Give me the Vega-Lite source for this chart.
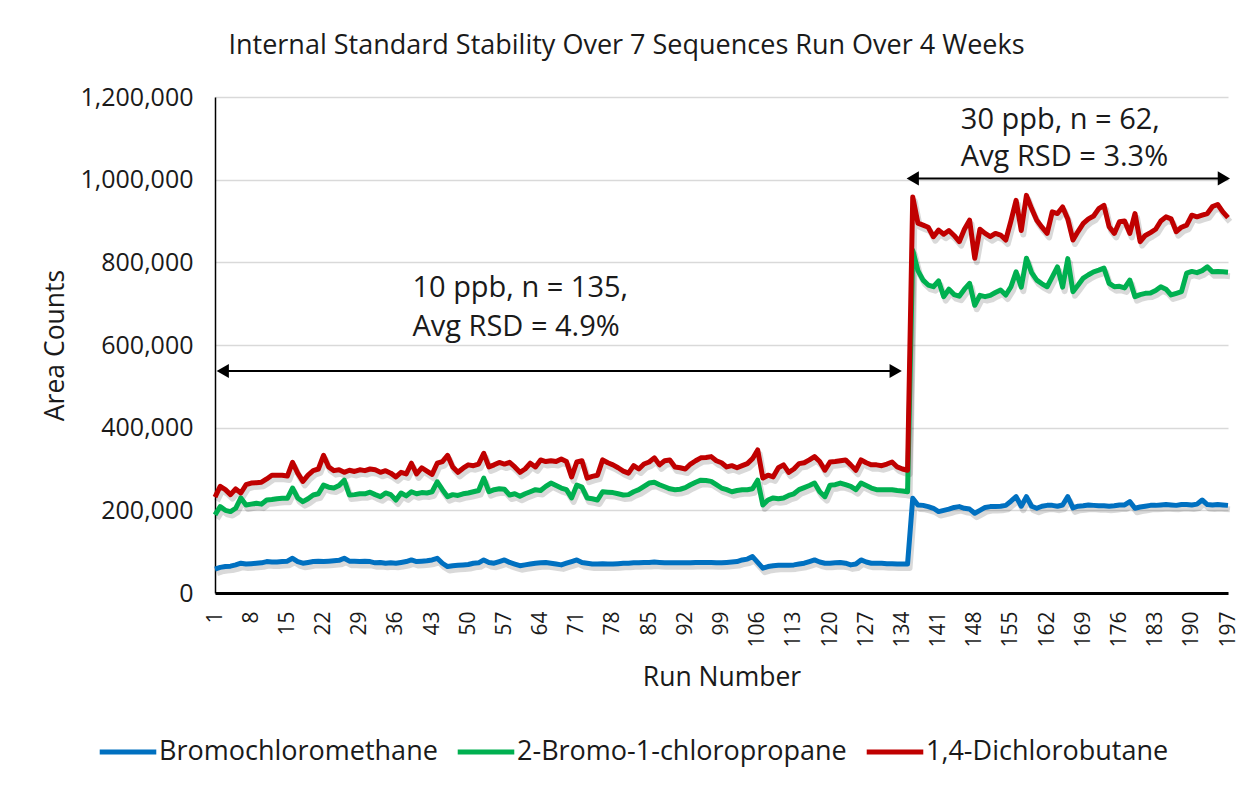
{
"$schema": "https://vega.github.io/schema/vega-lite/v6.json",
"width": 1013,
"height": 496,
"autosize": {"type": "none"},
"padding": {"left": 215, "top": 97, "right": 24, "bottom": 198},
"background": "white",
"title": {"text": "Internal Standard Stability Over 7 Sequences Run Over 4 Weeks", "fontSize": 27, "fontWeight": "normal", "font": "Open Sans", "color": "#1a1a1a", "anchor": "middle", "dx": -95, "offset": 25},
"datasets": {
"ts": [
{"run":1,"compound":"Bromochloromethane","area":58000},{"run":2,"compound":"Bromochloromethane","area":62000},{"run":3,"compound":"Bromochloromethane","area":64000},{"run":4,"compound":"Bromochloromethane","area":65000},{"run":5,"compound":"Bromochloromethane","area":68000},{"run":6,"compound":"Bromochloromethane","area":72000},{"run":7,"compound":"Bromochloromethane","area":70000},{"run":8,"compound":"Bromochloromethane","area":71000},{"run":9,"compound":"Bromochloromethane","area":72000},{"run":10,"compound":"Bromochloromethane","area":73000},
{"run":11,"compound":"Bromochloromethane","area":76000},{"run":12,"compound":"Bromochloromethane","area":75000},{"run":13,"compound":"Bromochloromethane","area":75000},{"run":14,"compound":"Bromochloromethane","area":76000},{"run":15,"compound":"Bromochloromethane","area":77000},{"run":16,"compound":"Bromochloromethane","area":84000},{"run":17,"compound":"Bromochloromethane","area":76000},{"run":18,"compound":"Bromochloromethane","area":72000},{"run":19,"compound":"Bromochloromethane","area":74000},{"run":20,"compound":"Bromochloromethane","area":76000},
{"run":21,"compound":"Bromochloromethane","area":77000},{"run":22,"compound":"Bromochloromethane","area":76000},{"run":23,"compound":"Bromochloromethane","area":77000},{"run":24,"compound":"Bromochloromethane","area":78000},{"run":25,"compound":"Bromochloromethane","area":79000},{"run":26,"compound":"Bromochloromethane","area":84000},{"run":27,"compound":"Bromochloromethane","area":77000},{"run":28,"compound":"Bromochloromethane","area":77000},{"run":29,"compound":"Bromochloromethane","area":76000},{"run":30,"compound":"Bromochloromethane","area":77000},
{"run":31,"compound":"Bromochloromethane","area":76000},{"run":32,"compound":"Bromochloromethane","area":73000},{"run":33,"compound":"Bromochloromethane","area":74000},{"run":34,"compound":"Bromochloromethane","area":72000},{"run":35,"compound":"Bromochloromethane","area":73000},{"run":36,"compound":"Bromochloromethane","area":72000},{"run":37,"compound":"Bromochloromethane","area":74000},{"run":38,"compound":"Bromochloromethane","area":76000},{"run":39,"compound":"Bromochloromethane","area":80000},{"run":40,"compound":"Bromochloromethane","area":76000},
{"run":41,"compound":"Bromochloromethane","area":77000},{"run":42,"compound":"Bromochloromethane","area":78000},{"run":43,"compound":"Bromochloromethane","area":80000},{"run":44,"compound":"Bromochloromethane","area":84000},{"run":45,"compound":"Bromochloromethane","area":72000},{"run":46,"compound":"Bromochloromethane","area":64000},{"run":47,"compound":"Bromochloromethane","area":66000},{"run":48,"compound":"Bromochloromethane","area":67000},{"run":49,"compound":"Bromochloromethane","area":68000},{"run":50,"compound":"Bromochloromethane","area":69000},
{"run":51,"compound":"Bromochloromethane","area":72000},{"run":52,"compound":"Bromochloromethane","area":73000},{"run":53,"compound":"Bromochloromethane","area":80000},{"run":54,"compound":"Bromochloromethane","area":74000},{"run":55,"compound":"Bromochloromethane","area":72000},{"run":56,"compound":"Bromochloromethane","area":76000},{"run":57,"compound":"Bromochloromethane","area":80000},{"run":58,"compound":"Bromochloromethane","area":74000},{"run":59,"compound":"Bromochloromethane","area":70000},{"run":60,"compound":"Bromochloromethane","area":66000},
{"run":61,"compound":"Bromochloromethane","area":68000},{"run":62,"compound":"Bromochloromethane","area":70000},{"run":63,"compound":"Bromochloromethane","area":72000},{"run":64,"compound":"Bromochloromethane","area":73000},{"run":65,"compound":"Bromochloromethane","area":74000},{"run":66,"compound":"Bromochloromethane","area":72000},{"run":67,"compound":"Bromochloromethane","area":70000},{"run":68,"compound":"Bromochloromethane","area":68000},{"run":69,"compound":"Bromochloromethane","area":72000},{"run":70,"compound":"Bromochloromethane","area":76000},
{"run":71,"compound":"Bromochloromethane","area":80000},{"run":72,"compound":"Bromochloromethane","area":74000},{"run":73,"compound":"Bromochloromethane","area":72000},{"run":74,"compound":"Bromochloromethane","area":70000},{"run":75,"compound":"Bromochloromethane","area":70000},{"run":76,"compound":"Bromochloromethane","area":71000},{"run":77,"compound":"Bromochloromethane","area":70000},{"run":78,"compound":"Bromochloromethane","area":70000},{"run":79,"compound":"Bromochloromethane","area":71000},{"run":80,"compound":"Bromochloromethane","area":72000},
{"run":81,"compound":"Bromochloromethane","area":72000},{"run":82,"compound":"Bromochloromethane","area":73000},{"run":83,"compound":"Bromochloromethane","area":73000},{"run":84,"compound":"Bromochloromethane","area":74000},{"run":85,"compound":"Bromochloromethane","area":74000},{"run":86,"compound":"Bromochloromethane","area":75000},{"run":87,"compound":"Bromochloromethane","area":74000},{"run":88,"compound":"Bromochloromethane","area":73000},{"run":89,"compound":"Bromochloromethane","area":73000},{"run":90,"compound":"Bromochloromethane","area":73000},
{"run":91,"compound":"Bromochloromethane","area":73000},{"run":92,"compound":"Bromochloromethane","area":73000},{"run":93,"compound":"Bromochloromethane","area":73000},{"run":94,"compound":"Bromochloromethane","area":74000},{"run":95,"compound":"Bromochloromethane","area":74000},{"run":96,"compound":"Bromochloromethane","area":74000},{"run":97,"compound":"Bromochloromethane","area":74000},{"run":98,"compound":"Bromochloromethane","area":73000},{"run":99,"compound":"Bromochloromethane","area":73000},{"run":100,"compound":"Bromochloromethane","area":74000},
{"run":101,"compound":"Bromochloromethane","area":75000},{"run":102,"compound":"Bromochloromethane","area":76000},{"run":103,"compound":"Bromochloromethane","area":80000},{"run":104,"compound":"Bromochloromethane","area":82000},{"run":105,"compound":"Bromochloromethane","area":88000},{"run":106,"compound":"Bromochloromethane","area":74000},{"run":107,"compound":"Bromochloromethane","area":60000},{"run":108,"compound":"Bromochloromethane","area":64000},{"run":109,"compound":"Bromochloromethane","area":66000},{"run":110,"compound":"Bromochloromethane","area":67000},
{"run":111,"compound":"Bromochloromethane","area":67000},{"run":112,"compound":"Bromochloromethane","area":67000},{"run":113,"compound":"Bromochloromethane","area":68000},{"run":114,"compound":"Bromochloromethane","area":70000},{"run":115,"compound":"Bromochloromethane","area":72000},{"run":116,"compound":"Bromochloromethane","area":76000},{"run":117,"compound":"Bromochloromethane","area":80000},{"run":118,"compound":"Bromochloromethane","area":75000},{"run":119,"compound":"Bromochloromethane","area":72000},{"run":120,"compound":"Bromochloromethane","area":72000},
{"run":121,"compound":"Bromochloromethane","area":73000},{"run":122,"compound":"Bromochloromethane","area":74000},{"run":123,"compound":"Bromochloromethane","area":72000},{"run":124,"compound":"Bromochloromethane","area":68000},{"run":125,"compound":"Bromochloromethane","area":70000},{"run":126,"compound":"Bromochloromethane","area":80000},{"run":127,"compound":"Bromochloromethane","area":75000},{"run":128,"compound":"Bromochloromethane","area":72000},{"run":129,"compound":"Bromochloromethane","area":72000},{"run":130,"compound":"Bromochloromethane","area":72000},
{"run":131,"compound":"Bromochloromethane","area":71000},{"run":132,"compound":"Bromochloromethane","area":71000},{"run":133,"compound":"Bromochloromethane","area":70000},{"run":134,"compound":"Bromochloromethane","area":70000},{"run":135,"compound":"Bromochloromethane","area":70000},{"run":136,"compound":"Bromochloromethane","area":229000},{"run":137,"compound":"Bromochloromethane","area":213000},{"run":138,"compound":"Bromochloromethane","area":212000},{"run":139,"compound":"Bromochloromethane","area":209000},{"run":140,"compound":"Bromochloromethane","area":205000},
{"run":141,"compound":"Bromochloromethane","area":197000},{"run":142,"compound":"Bromochloromethane","area":200000},{"run":143,"compound":"Bromochloromethane","area":203000},{"run":144,"compound":"Bromochloromethane","area":207000},{"run":145,"compound":"Bromochloromethane","area":209000},{"run":146,"compound":"Bromochloromethane","area":205000},{"run":147,"compound":"Bromochloromethane","area":203000},{"run":148,"compound":"Bromochloromethane","area":193000},{"run":149,"compound":"Bromochloromethane","area":200000},{"run":150,"compound":"Bromochloromethane","area":207000},
{"run":151,"compound":"Bromochloromethane","area":209000},{"run":152,"compound":"Bromochloromethane","area":209000},{"run":153,"compound":"Bromochloromethane","area":210000},{"run":154,"compound":"Bromochloromethane","area":212000},{"run":155,"compound":"Bromochloromethane","area":222000},{"run":156,"compound":"Bromochloromethane","area":233000},{"run":157,"compound":"Bromochloromethane","area":210000},{"run":158,"compound":"Bromochloromethane","area":233000},{"run":159,"compound":"Bromochloromethane","area":210000},{"run":160,"compound":"Bromochloromethane","area":205000},
{"run":161,"compound":"Bromochloromethane","area":210000},{"run":162,"compound":"Bromochloromethane","area":212000},{"run":163,"compound":"Bromochloromethane","area":212000},{"run":164,"compound":"Bromochloromethane","area":210000},{"run":165,"compound":"Bromochloromethane","area":213000},{"run":166,"compound":"Bromochloromethane","area":233000},{"run":167,"compound":"Bromochloromethane","area":206000},{"run":168,"compound":"Bromochloromethane","area":210000},{"run":169,"compound":"Bromochloromethane","area":211000},{"run":170,"compound":"Bromochloromethane","area":213000},
{"run":171,"compound":"Bromochloromethane","area":212000},{"run":172,"compound":"Bromochloromethane","area":211000},{"run":173,"compound":"Bromochloromethane","area":211000},{"run":174,"compound":"Bromochloromethane","area":210000},{"run":175,"compound":"Bromochloromethane","area":211000},{"run":176,"compound":"Bromochloromethane","area":213000},{"run":177,"compound":"Bromochloromethane","area":213000},{"run":178,"compound":"Bromochloromethane","area":221000},{"run":179,"compound":"Bromochloromethane","area":205000},{"run":180,"compound":"Bromochloromethane","area":208000},
{"run":181,"compound":"Bromochloromethane","area":210000},{"run":182,"compound":"Bromochloromethane","area":212000},{"run":183,"compound":"Bromochloromethane","area":212000},{"run":184,"compound":"Bromochloromethane","area":213000},{"run":185,"compound":"Bromochloromethane","area":214000},{"run":186,"compound":"Bromochloromethane","area":213000},{"run":187,"compound":"Bromochloromethane","area":212000},{"run":188,"compound":"Bromochloromethane","area":214000},{"run":189,"compound":"Bromochloromethane","area":214000},{"run":190,"compound":"Bromochloromethane","area":213000},
{"run":191,"compound":"Bromochloromethane","area":215000},{"run":192,"compound":"Bromochloromethane","area":225000},{"run":193,"compound":"Bromochloromethane","area":214000},{"run":194,"compound":"Bromochloromethane","area":213000},{"run":195,"compound":"Bromochloromethane","area":214000},{"run":196,"compound":"Bromochloromethane","area":213000},{"run":197,"compound":"Bromochloromethane","area":212000},
{"run":1,"compound":"2-Bromo-1-chloropropane","area":189000},{"run":2,"compound":"2-Bromo-1-chloropropane","area":209000},{"run":3,"compound":"2-Bromo-1-chloropropane","area":200000},{"run":4,"compound":"2-Bromo-1-chloropropane","area":197000},{"run":5,"compound":"2-Bromo-1-chloropropane","area":205000},{"run":6,"compound":"2-Bromo-1-chloropropane","area":230000},{"run":7,"compound":"2-Bromo-1-chloropropane","area":213000},{"run":8,"compound":"2-Bromo-1-chloropropane","area":215000},{"run":9,"compound":"2-Bromo-1-chloropropane","area":217000},{"run":10,"compound":"2-Bromo-1-chloropropane","area":215000},
{"run":11,"compound":"2-Bromo-1-chloropropane","area":225000},{"run":12,"compound":"2-Bromo-1-chloropropane","area":226000},{"run":13,"compound":"2-Bromo-1-chloropropane","area":228000},{"run":14,"compound":"2-Bromo-1-chloropropane","area":229000},{"run":15,"compound":"2-Bromo-1-chloropropane","area":229000},{"run":16,"compound":"2-Bromo-1-chloropropane","area":254000},{"run":17,"compound":"2-Bromo-1-chloropropane","area":230000},{"run":18,"compound":"2-Bromo-1-chloropropane","area":221000},{"run":19,"compound":"2-Bromo-1-chloropropane","area":228000},{"run":20,"compound":"2-Bromo-1-chloropropane","area":237000},
{"run":21,"compound":"2-Bromo-1-chloropropane","area":240000},{"run":22,"compound":"2-Bromo-1-chloropropane","area":261000},{"run":23,"compound":"2-Bromo-1-chloropropane","area":256000},{"run":24,"compound":"2-Bromo-1-chloropropane","area":254000},{"run":25,"compound":"2-Bromo-1-chloropropane","area":260000},{"run":26,"compound":"2-Bromo-1-chloropropane","area":273000},{"run":27,"compound":"2-Bromo-1-chloropropane","area":237000},{"run":28,"compound":"2-Bromo-1-chloropropane","area":238000},{"run":29,"compound":"2-Bromo-1-chloropropane","area":240000},{"run":30,"compound":"2-Bromo-1-chloropropane","area":240000},
{"run":31,"compound":"2-Bromo-1-chloropropane","area":244000},{"run":32,"compound":"2-Bromo-1-chloropropane","area":238000},{"run":33,"compound":"2-Bromo-1-chloropropane","area":233000},{"run":34,"compound":"2-Bromo-1-chloropropane","area":242000},{"run":35,"compound":"2-Bromo-1-chloropropane","area":238000},{"run":36,"compound":"2-Bromo-1-chloropropane","area":225000},{"run":37,"compound":"2-Bromo-1-chloropropane","area":242000},{"run":38,"compound":"2-Bromo-1-chloropropane","area":235000},{"run":39,"compound":"2-Bromo-1-chloropropane","area":245000},{"run":40,"compound":"2-Bromo-1-chloropropane","area":240000},
{"run":41,"compound":"2-Bromo-1-chloropropane","area":243000},{"run":42,"compound":"2-Bromo-1-chloropropane","area":242000},{"run":43,"compound":"2-Bromo-1-chloropropane","area":245000},{"run":44,"compound":"2-Bromo-1-chloropropane","area":269000},{"run":45,"compound":"2-Bromo-1-chloropropane","area":250000},{"run":46,"compound":"2-Bromo-1-chloropropane","area":233000},{"run":47,"compound":"2-Bromo-1-chloropropane","area":238000},{"run":48,"compound":"2-Bromo-1-chloropropane","area":236000},{"run":49,"compound":"2-Bromo-1-chloropropane","area":240000},{"run":50,"compound":"2-Bromo-1-chloropropane","area":242000},
{"run":51,"compound":"2-Bromo-1-chloropropane","area":245000},{"run":52,"compound":"2-Bromo-1-chloropropane","area":248000},{"run":53,"compound":"2-Bromo-1-chloropropane","area":278000},{"run":54,"compound":"2-Bromo-1-chloropropane","area":245000},{"run":55,"compound":"2-Bromo-1-chloropropane","area":250000},{"run":56,"compound":"2-Bromo-1-chloropropane","area":252000},{"run":57,"compound":"2-Bromo-1-chloropropane","area":251000},{"run":58,"compound":"2-Bromo-1-chloropropane","area":237000},{"run":59,"compound":"2-Bromo-1-chloropropane","area":240000},{"run":60,"compound":"2-Bromo-1-chloropropane","area":234000},
{"run":61,"compound":"2-Bromo-1-chloropropane","area":240000},{"run":62,"compound":"2-Bromo-1-chloropropane","area":245000},{"run":63,"compound":"2-Bromo-1-chloropropane","area":250000},{"run":64,"compound":"2-Bromo-1-chloropropane","area":248000},{"run":65,"compound":"2-Bromo-1-chloropropane","area":258000},{"run":66,"compound":"2-Bromo-1-chloropropane","area":266000},{"run":67,"compound":"2-Bromo-1-chloropropane","area":260000},{"run":68,"compound":"2-Bromo-1-chloropropane","area":254000},{"run":69,"compound":"2-Bromo-1-chloropropane","area":250000},{"run":70,"compound":"2-Bromo-1-chloropropane","area":230000},
{"run":71,"compound":"2-Bromo-1-chloropropane","area":261000},{"run":72,"compound":"2-Bromo-1-chloropropane","area":256000},{"run":73,"compound":"2-Bromo-1-chloropropane","area":230000},{"run":74,"compound":"2-Bromo-1-chloropropane","area":228000},{"run":75,"compound":"2-Bromo-1-chloropropane","area":225000},{"run":76,"compound":"2-Bromo-1-chloropropane","area":245000},{"run":77,"compound":"2-Bromo-1-chloropropane","area":244000},{"run":78,"compound":"2-Bromo-1-chloropropane","area":243000},{"run":79,"compound":"2-Bromo-1-chloropropane","area":240000},{"run":80,"compound":"2-Bromo-1-chloropropane","area":237000},
{"run":81,"compound":"2-Bromo-1-chloropropane","area":238000},{"run":82,"compound":"2-Bromo-1-chloropropane","area":245000},{"run":83,"compound":"2-Bromo-1-chloropropane","area":250000},{"run":84,"compound":"2-Bromo-1-chloropropane","area":258000},{"run":85,"compound":"2-Bromo-1-chloropropane","area":266000},{"run":86,"compound":"2-Bromo-1-chloropropane","area":268000},{"run":87,"compound":"2-Bromo-1-chloropropane","area":262000},{"run":88,"compound":"2-Bromo-1-chloropropane","area":257000},{"run":89,"compound":"2-Bromo-1-chloropropane","area":252000},{"run":90,"compound":"2-Bromo-1-chloropropane","area":250000},
{"run":91,"compound":"2-Bromo-1-chloropropane","area":251000},{"run":92,"compound":"2-Bromo-1-chloropropane","area":255000},{"run":93,"compound":"2-Bromo-1-chloropropane","area":262000},{"run":94,"compound":"2-Bromo-1-chloropropane","area":268000},{"run":95,"compound":"2-Bromo-1-chloropropane","area":273000},{"run":96,"compound":"2-Bromo-1-chloropropane","area":272000},{"run":97,"compound":"2-Bromo-1-chloropropane","area":270000},{"run":98,"compound":"2-Bromo-1-chloropropane","area":262000},{"run":99,"compound":"2-Bromo-1-chloropropane","area":254000},{"run":100,"compound":"2-Bromo-1-chloropropane","area":250000},
{"run":101,"compound":"2-Bromo-1-chloropropane","area":245000},{"run":102,"compound":"2-Bromo-1-chloropropane","area":248000},{"run":103,"compound":"2-Bromo-1-chloropropane","area":250000},{"run":104,"compound":"2-Bromo-1-chloropropane","area":250000},{"run":105,"compound":"2-Bromo-1-chloropropane","area":252000},{"run":106,"compound":"2-Bromo-1-chloropropane","area":273000},{"run":107,"compound":"2-Bromo-1-chloropropane","area":213000},{"run":108,"compound":"2-Bromo-1-chloropropane","area":225000},{"run":109,"compound":"2-Bromo-1-chloropropane","area":230000},{"run":110,"compound":"2-Bromo-1-chloropropane","area":228000},
{"run":111,"compound":"2-Bromo-1-chloropropane","area":230000},{"run":112,"compound":"2-Bromo-1-chloropropane","area":236000},{"run":113,"compound":"2-Bromo-1-chloropropane","area":240000},{"run":114,"compound":"2-Bromo-1-chloropropane","area":250000},{"run":115,"compound":"2-Bromo-1-chloropropane","area":255000},{"run":116,"compound":"2-Bromo-1-chloropropane","area":260000},{"run":117,"compound":"2-Bromo-1-chloropropane","area":266000},{"run":118,"compound":"2-Bromo-1-chloropropane","area":245000},{"run":119,"compound":"2-Bromo-1-chloropropane","area":233000},{"run":120,"compound":"2-Bromo-1-chloropropane","area":261000},
{"run":121,"compound":"2-Bromo-1-chloropropane","area":262000},{"run":122,"compound":"2-Bromo-1-chloropropane","area":266000},{"run":123,"compound":"2-Bromo-1-chloropropane","area":262000},{"run":124,"compound":"2-Bromo-1-chloropropane","area":258000},{"run":125,"compound":"2-Bromo-1-chloropropane","area":250000},{"run":126,"compound":"2-Bromo-1-chloropropane","area":266000},{"run":127,"compound":"2-Bromo-1-chloropropane","area":260000},{"run":128,"compound":"2-Bromo-1-chloropropane","area":254000},{"run":129,"compound":"2-Bromo-1-chloropropane","area":250000},{"run":130,"compound":"2-Bromo-1-chloropropane","area":250000},
{"run":131,"compound":"2-Bromo-1-chloropropane","area":250000},{"run":132,"compound":"2-Bromo-1-chloropropane","area":250000},{"run":133,"compound":"2-Bromo-1-chloropropane","area":248000},{"run":134,"compound":"2-Bromo-1-chloropropane","area":247000},{"run":135,"compound":"2-Bromo-1-chloropropane","area":245000},{"run":136,"compound":"2-Bromo-1-chloropropane","area":829000},{"run":137,"compound":"2-Bromo-1-chloropropane","area":780000},{"run":138,"compound":"2-Bromo-1-chloropropane","area":757000},{"run":139,"compound":"2-Bromo-1-chloropropane","area":745000},{"run":140,"compound":"2-Bromo-1-chloropropane","area":741000},
{"run":141,"compound":"2-Bromo-1-chloropropane","area":755000},{"run":142,"compound":"2-Bromo-1-chloropropane","area":717000},{"run":143,"compound":"2-Bromo-1-chloropropane","area":735000},{"run":144,"compound":"2-Bromo-1-chloropropane","area":722000},{"run":145,"compound":"2-Bromo-1-chloropropane","area":718000},{"run":146,"compound":"2-Bromo-1-chloropropane","area":735000},{"run":147,"compound":"2-Bromo-1-chloropropane","area":749000},{"run":148,"compound":"2-Bromo-1-chloropropane","area":696000},{"run":149,"compound":"2-Bromo-1-chloropropane","area":720000},{"run":150,"compound":"2-Bromo-1-chloropropane","area":717000},
{"run":151,"compound":"2-Bromo-1-chloropropane","area":720000},{"run":152,"compound":"2-Bromo-1-chloropropane","area":727000},{"run":153,"compound":"2-Bromo-1-chloropropane","area":733000},{"run":154,"compound":"2-Bromo-1-chloropropane","area":721000},{"run":155,"compound":"2-Bromo-1-chloropropane","area":741000},{"run":156,"compound":"2-Bromo-1-chloropropane","area":777000},{"run":157,"compound":"2-Bromo-1-chloropropane","area":740000},{"run":158,"compound":"2-Bromo-1-chloropropane","area":810000},{"run":159,"compound":"2-Bromo-1-chloropropane","area":775000},{"run":160,"compound":"2-Bromo-1-chloropropane","area":757000},
{"run":161,"compound":"2-Bromo-1-chloropropane","area":748000},{"run":162,"compound":"2-Bromo-1-chloropropane","area":741000},{"run":163,"compound":"2-Bromo-1-chloropropane","area":765000},{"run":164,"compound":"2-Bromo-1-chloropropane","area":789000},{"run":165,"compound":"2-Bromo-1-chloropropane","area":740000},{"run":166,"compound":"2-Bromo-1-chloropropane","area":809000},{"run":167,"compound":"2-Bromo-1-chloropropane","area":729000},{"run":168,"compound":"2-Bromo-1-chloropropane","area":745000},{"run":169,"compound":"2-Bromo-1-chloropropane","area":762000},{"run":170,"compound":"2-Bromo-1-chloropropane","area":770000},
{"run":171,"compound":"2-Bromo-1-chloropropane","area":777000},{"run":172,"compound":"2-Bromo-1-chloropropane","area":781000},{"run":173,"compound":"2-Bromo-1-chloropropane","area":786000},{"run":174,"compound":"2-Bromo-1-chloropropane","area":749000},{"run":175,"compound":"2-Bromo-1-chloropropane","area":741000},{"run":176,"compound":"2-Bromo-1-chloropropane","area":742000},{"run":177,"compound":"2-Bromo-1-chloropropane","area":738000},{"run":178,"compound":"2-Bromo-1-chloropropane","area":757000},{"run":179,"compound":"2-Bromo-1-chloropropane","area":717000},{"run":180,"compound":"2-Bromo-1-chloropropane","area":722000},
{"run":181,"compound":"2-Bromo-1-chloropropane","area":725000},{"run":182,"compound":"2-Bromo-1-chloropropane","area":726000},{"run":183,"compound":"2-Bromo-1-chloropropane","area":732000},{"run":184,"compound":"2-Bromo-1-chloropropane","area":741000},{"run":185,"compound":"2-Bromo-1-chloropropane","area":735000},{"run":186,"compound":"2-Bromo-1-chloropropane","area":721000},{"run":187,"compound":"2-Bromo-1-chloropropane","area":725000},{"run":188,"compound":"2-Bromo-1-chloropropane","area":729000},{"run":189,"compound":"2-Bromo-1-chloropropane","area":774000},{"run":190,"compound":"2-Bromo-1-chloropropane","area":778000},
{"run":191,"compound":"2-Bromo-1-chloropropane","area":775000},{"run":192,"compound":"2-Bromo-1-chloropropane","area":780000},{"run":193,"compound":"2-Bromo-1-chloropropane","area":789000},{"run":194,"compound":"2-Bromo-1-chloropropane","area":777000},{"run":195,"compound":"2-Bromo-1-chloropropane","area":778000},{"run":196,"compound":"2-Bromo-1-chloropropane","area":777000},{"run":197,"compound":"2-Bromo-1-chloropropane","area":776000},
{"run":1,"compound":"1,4-Dichlorobutane","area":232000},{"run":2,"compound":"1,4-Dichlorobutane","area":258000},{"run":3,"compound":"1,4-Dichlorobutane","area":250000},{"run":4,"compound":"1,4-Dichlorobutane","area":238000},{"run":5,"compound":"1,4-Dichlorobutane","area":252000},{"run":6,"compound":"1,4-Dichlorobutane","area":242000},{"run":7,"compound":"1,4-Dichlorobutane","area":262000},{"run":8,"compound":"1,4-Dichlorobutane","area":266000},{"run":9,"compound":"1,4-Dichlorobutane","area":267000},{"run":10,"compound":"1,4-Dichlorobutane","area":268000},
{"run":11,"compound":"1,4-Dichlorobutane","area":276000},{"run":12,"compound":"1,4-Dichlorobutane","area":285000},{"run":13,"compound":"1,4-Dichlorobutane","area":285000},{"run":14,"compound":"1,4-Dichlorobutane","area":285000},{"run":15,"compound":"1,4-Dichlorobutane","area":283000},{"run":16,"compound":"1,4-Dichlorobutane","area":316000},{"run":17,"compound":"1,4-Dichlorobutane","area":290000},{"run":18,"compound":"1,4-Dichlorobutane","area":270000},{"run":19,"compound":"1,4-Dichlorobutane","area":285000},{"run":20,"compound":"1,4-Dichlorobutane","area":296000},
{"run":21,"compound":"1,4-Dichlorobutane","area":300000},{"run":22,"compound":"1,4-Dichlorobutane","area":333000},{"run":23,"compound":"1,4-Dichlorobutane","area":305000},{"run":24,"compound":"1,4-Dichlorobutane","area":296000},{"run":25,"compound":"1,4-Dichlorobutane","area":298000},{"run":26,"compound":"1,4-Dichlorobutane","area":292000},{"run":27,"compound":"1,4-Dichlorobutane","area":297000},{"run":28,"compound":"1,4-Dichlorobutane","area":294000},{"run":29,"compound":"1,4-Dichlorobutane","area":298000},{"run":30,"compound":"1,4-Dichlorobutane","area":296000},
{"run":31,"compound":"1,4-Dichlorobutane","area":300000},{"run":32,"compound":"1,4-Dichlorobutane","area":298000},{"run":33,"compound":"1,4-Dichlorobutane","area":292000},{"run":34,"compound":"1,4-Dichlorobutane","area":296000},{"run":35,"compound":"1,4-Dichlorobutane","area":290000},{"run":36,"compound":"1,4-Dichlorobutane","area":281000},{"run":37,"compound":"1,4-Dichlorobutane","area":292000},{"run":38,"compound":"1,4-Dichlorobutane","area":288000},{"run":39,"compound":"1,4-Dichlorobutane","area":314000},{"run":40,"compound":"1,4-Dichlorobutane","area":288000},
{"run":41,"compound":"1,4-Dichlorobutane","area":303000},{"run":42,"compound":"1,4-Dichlorobutane","area":295000},{"run":43,"compound":"1,4-Dichlorobutane","area":287000},{"run":44,"compound":"1,4-Dichlorobutane","area":314000},{"run":45,"compound":"1,4-Dichlorobutane","area":318000},{"run":46,"compound":"1,4-Dichlorobutane","area":333000},{"run":47,"compound":"1,4-Dichlorobutane","area":305000},{"run":48,"compound":"1,4-Dichlorobutane","area":292000},{"run":49,"compound":"1,4-Dichlorobutane","area":302000},{"run":50,"compound":"1,4-Dichlorobutane","area":310000},
{"run":51,"compound":"1,4-Dichlorobutane","area":308000},{"run":52,"compound":"1,4-Dichlorobutane","area":312000},{"run":53,"compound":"1,4-Dichlorobutane","area":338000},{"run":54,"compound":"1,4-Dichlorobutane","area":305000},{"run":55,"compound":"1,4-Dichlorobutane","area":310000},{"run":56,"compound":"1,4-Dichlorobutane","area":316000},{"run":57,"compound":"1,4-Dichlorobutane","area":312000},{"run":58,"compound":"1,4-Dichlorobutane","area":316000},{"run":59,"compound":"1,4-Dichlorobutane","area":305000},{"run":60,"compound":"1,4-Dichlorobutane","area":292000},
{"run":61,"compound":"1,4-Dichlorobutane","area":300000},{"run":62,"compound":"1,4-Dichlorobutane","area":314000},{"run":63,"compound":"1,4-Dichlorobutane","area":305000},{"run":64,"compound":"1,4-Dichlorobutane","area":322000},{"run":65,"compound":"1,4-Dichlorobutane","area":318000},{"run":66,"compound":"1,4-Dichlorobutane","area":320000},{"run":67,"compound":"1,4-Dichlorobutane","area":318000},{"run":68,"compound":"1,4-Dichlorobutane","area":324000},{"run":69,"compound":"1,4-Dichlorobutane","area":318000},{"run":70,"compound":"1,4-Dichlorobutane","area":281000},
{"run":71,"compound":"1,4-Dichlorobutane","area":317000},{"run":72,"compound":"1,4-Dichlorobutane","area":320000},{"run":73,"compound":"1,4-Dichlorobutane","area":278000},{"run":74,"compound":"1,4-Dichlorobutane","area":282000},{"run":75,"compound":"1,4-Dichlorobutane","area":285000},{"run":76,"compound":"1,4-Dichlorobutane","area":322000},{"run":77,"compound":"1,4-Dichlorobutane","area":315000},{"run":78,"compound":"1,4-Dichlorobutane","area":310000},{"run":79,"compound":"1,4-Dichlorobutane","area":303000},{"run":80,"compound":"1,4-Dichlorobutane","area":295000},
{"run":81,"compound":"1,4-Dichlorobutane","area":290000},{"run":82,"compound":"1,4-Dichlorobutane","area":308000},{"run":83,"compound":"1,4-Dichlorobutane","area":300000},{"run":84,"compound":"1,4-Dichlorobutane","area":312000},{"run":85,"compound":"1,4-Dichlorobutane","area":317000},{"run":86,"compound":"1,4-Dichlorobutane","area":327000},{"run":87,"compound":"1,4-Dichlorobutane","area":310000},{"run":88,"compound":"1,4-Dichlorobutane","area":320000},{"run":89,"compound":"1,4-Dichlorobutane","area":322000},{"run":90,"compound":"1,4-Dichlorobutane","area":305000},
{"run":91,"compound":"1,4-Dichlorobutane","area":303000},{"run":92,"compound":"1,4-Dichlorobutane","area":300000},{"run":93,"compound":"1,4-Dichlorobutane","area":312000},{"run":94,"compound":"1,4-Dichlorobutane","area":320000},{"run":95,"compound":"1,4-Dichlorobutane","area":327000},{"run":96,"compound":"1,4-Dichlorobutane","area":328000},{"run":97,"compound":"1,4-Dichlorobutane","area":330000},{"run":98,"compound":"1,4-Dichlorobutane","area":320000},{"run":99,"compound":"1,4-Dichlorobutane","area":315000},{"run":100,"compound":"1,4-Dichlorobutane","area":305000},
{"run":101,"compound":"1,4-Dichlorobutane","area":308000},{"run":102,"compound":"1,4-Dichlorobutane","area":303000},{"run":103,"compound":"1,4-Dichlorobutane","area":308000},{"run":104,"compound":"1,4-Dichlorobutane","area":313000},{"run":105,"compound":"1,4-Dichlorobutane","area":325000},{"run":106,"compound":"1,4-Dichlorobutane","area":346000},{"run":107,"compound":"1,4-Dichlorobutane","area":278000},{"run":108,"compound":"1,4-Dichlorobutane","area":285000},{"run":109,"compound":"1,4-Dichlorobutane","area":281000},{"run":110,"compound":"1,4-Dichlorobutane","area":303000},
{"run":111,"compound":"1,4-Dichlorobutane","area":310000},{"run":112,"compound":"1,4-Dichlorobutane","area":292000},{"run":113,"compound":"1,4-Dichlorobutane","area":300000},{"run":114,"compound":"1,4-Dichlorobutane","area":313000},{"run":115,"compound":"1,4-Dichlorobutane","area":315000},{"run":116,"compound":"1,4-Dichlorobutane","area":322000},{"run":117,"compound":"1,4-Dichlorobutane","area":330000},{"run":118,"compound":"1,4-Dichlorobutane","area":318000},{"run":119,"compound":"1,4-Dichlorobutane","area":297000},{"run":120,"compound":"1,4-Dichlorobutane","area":317000},
{"run":121,"compound":"1,4-Dichlorobutane","area":318000},{"run":122,"compound":"1,4-Dichlorobutane","area":320000},{"run":123,"compound":"1,4-Dichlorobutane","area":322000},{"run":124,"compound":"1,4-Dichlorobutane","area":310000},{"run":125,"compound":"1,4-Dichlorobutane","area":297000},{"run":126,"compound":"1,4-Dichlorobutane","area":322000},{"run":127,"compound":"1,4-Dichlorobutane","area":315000},{"run":128,"compound":"1,4-Dichlorobutane","area":310000},{"run":129,"compound":"1,4-Dichlorobutane","area":310000},{"run":130,"compound":"1,4-Dichlorobutane","area":308000},
{"run":131,"compound":"1,4-Dichlorobutane","area":312000},{"run":132,"compound":"1,4-Dichlorobutane","area":317000},{"run":133,"compound":"1,4-Dichlorobutane","area":305000},{"run":134,"compound":"1,4-Dichlorobutane","area":300000},{"run":135,"compound":"1,4-Dichlorobutane","area":297000},{"run":136,"compound":"1,4-Dichlorobutane","area":958000},{"run":137,"compound":"1,4-Dichlorobutane","area":895000},{"run":138,"compound":"1,4-Dichlorobutane","area":890000},{"run":139,"compound":"1,4-Dichlorobutane","area":885000},{"run":140,"compound":"1,4-Dichlorobutane","area":862000},
{"run":141,"compound":"1,4-Dichlorobutane","area":878000},{"run":142,"compound":"1,4-Dichlorobutane","area":868000},{"run":143,"compound":"1,4-Dichlorobutane","area":877000},{"run":144,"compound":"1,4-Dichlorobutane","area":865000},{"run":145,"compound":"1,4-Dichlorobutane","area":850000},{"run":146,"compound":"1,4-Dichlorobutane","area":880000},{"run":147,"compound":"1,4-Dichlorobutane","area":902000},{"run":148,"compound":"1,4-Dichlorobutane","area":810000},{"run":149,"compound":"1,4-Dichlorobutane","area":880000},{"run":150,"compound":"1,4-Dichlorobutane","area":870000},
{"run":151,"compound":"1,4-Dichlorobutane","area":862000},{"run":152,"compound":"1,4-Dichlorobutane","area":870000},{"run":153,"compound":"1,4-Dichlorobutane","area":866000},{"run":154,"compound":"1,4-Dichlorobutane","area":854000},{"run":155,"compound":"1,4-Dichlorobutane","area":900000},{"run":156,"compound":"1,4-Dichlorobutane","area":950000},{"run":157,"compound":"1,4-Dichlorobutane","area":877000},{"run":158,"compound":"1,4-Dichlorobutane","area":962000},{"run":159,"compound":"1,4-Dichlorobutane","area":930000},{"run":160,"compound":"1,4-Dichlorobutane","area":902000},
{"run":161,"compound":"1,4-Dichlorobutane","area":885000},{"run":162,"compound":"1,4-Dichlorobutane","area":870000},{"run":163,"compound":"1,4-Dichlorobutane","area":922000},{"run":164,"compound":"1,4-Dichlorobutane","area":918000},{"run":165,"compound":"1,4-Dichlorobutane","area":934000},{"run":166,"compound":"1,4-Dichlorobutane","area":905000},{"run":167,"compound":"1,4-Dichlorobutane","area":854000},{"run":168,"compound":"1,4-Dichlorobutane","area":875000},{"run":169,"compound":"1,4-Dichlorobutane","area":894000},{"run":170,"compound":"1,4-Dichlorobutane","area":905000},
{"run":171,"compound":"1,4-Dichlorobutane","area":912000},{"run":172,"compound":"1,4-Dichlorobutane","area":930000},{"run":173,"compound":"1,4-Dichlorobutane","area":938000},{"run":174,"compound":"1,4-Dichlorobutane","area":886000},{"run":175,"compound":"1,4-Dichlorobutane","area":870000},{"run":176,"compound":"1,4-Dichlorobutane","area":898000},{"run":177,"compound":"1,4-Dichlorobutane","area":900000},{"run":178,"compound":"1,4-Dichlorobutane","area":870000},{"run":179,"compound":"1,4-Dichlorobutane","area":918000},{"run":180,"compound":"1,4-Dichlorobutane","area":850000},
{"run":181,"compound":"1,4-Dichlorobutane","area":865000},{"run":182,"compound":"1,4-Dichlorobutane","area":872000},{"run":183,"compound":"1,4-Dichlorobutane","area":880000},{"run":184,"compound":"1,4-Dichlorobutane","area":900000},{"run":185,"compound":"1,4-Dichlorobutane","area":910000},{"run":186,"compound":"1,4-Dichlorobutane","area":905000},{"run":187,"compound":"1,4-Dichlorobutane","area":874000},{"run":188,"compound":"1,4-Dichlorobutane","area":885000},{"run":189,"compound":"1,4-Dichlorobutane","area":890000},{"run":190,"compound":"1,4-Dichlorobutane","area":914000},
{"run":191,"compound":"1,4-Dichlorobutane","area":910000},{"run":192,"compound":"1,4-Dichlorobutane","area":914000},{"run":193,"compound":"1,4-Dichlorobutane","area":918000},{"run":194,"compound":"1,4-Dichlorobutane","area":935000},{"run":195,"compound":"1,4-Dichlorobutane","area":940000},{"run":196,"compound":"1,4-Dichlorobutane","area":922000},{"run":197,"compound":"1,4-Dichlorobutane","area":908000}
],
"arrows": [
{"run":2,"run2":133,"area":537000},
{"run":136,"run2":196.5,"area":1003000}
],
"leftHeads": [
{"run":2.5,"area":537000},
{"run":136,"area":1003000}
],
"rightHeads": [
{"run":132.7,"area":537000},
{"run":196.2,"area":1003000}
],
"notes": [
{"run":39.2,"area":737000,"label":"10 ppb, n = 135,"},
{"run":39.2,"area":643000,"label":"Avg RSD = 4.9%"},
{"run":145.3,"area":1144000,"label":"30 ppb, n = 62,"},
{"run":145.3,"area":1054000,"label":"Avg RSD = 3.3%"}
]
},
"encoding": {
"x": {"field": "run", "type": "quantitative", "scale": {"domain": [1, 197], "nice": false, "zero": false},
"axis": {"title": "Run Number", "values": [1,8,15,22,29,36,43,50,57,64,71,78,85,92,99,106,113,120,127,134,141,148,155,162,169,176,183,190,197], "format": "d", "labelAngle": -90, "labelFontSize": 21, "labelColor": "#1a1a1a", "labelOverlap": false, "ticks": false, "grid": false, "domainColor": "#000000", "domainWidth": 3, "labelPadding": 18, "titleFontSize": 26.5, "titleFontWeight": "normal", "titleColor": "#1a1a1a", "titlePadding": 17}},
"y": {"field": "area", "type": "quantitative", "scale": {"domain": [0, 1200000], "nice": false},
"axis": {"title": "Area Counts", "values": [0,200000,400000,600000,800000,1000000,1200000], "format": ",.0f", "labelFontSize": 25, "labelColor": "#1a1a1a", "ticks": false, "gridColor": "#d9d9d9", "gridWidth": 1.5, "domainColor": "#000000", "domainWidth": 1.5, "labelPadding": 22, "titleFontSize": 26.5, "titleFontWeight": "normal", "titleColor": "#1a1a1a", "titlePadding": 10}}
},
"layer": [
{
"data": {"name": "ts"},
"mark": {"type": "line", "strokeWidth": 6, "color": "#000000", "opacity": 0.15, "xOffset": 2, "yOffset": 4, "strokeJoin": "round"},
"encoding": {
"detail": {"field": "compound", "type": "nominal"}
}
},
{
"data": {"name": "ts"},
"mark": {"type": "line", "strokeWidth": 5, "strokeJoin": "round"},
"encoding": {
"color": {"field": "compound", "type": "nominal",
"scale": {"domain": ["Bromochloromethane", "2-Bromo-1-chloropropane", "1,4-Dichlorobutane"], "range": ["#0070C0", "#00B050", "#C00000"]},
"legend": {"title": null, "orient": "none", "direction": "horizontal", "legendX": -118, "legendY": 624, "symbolType": "stroke", "symbolSize": 3200, "symbolStrokeWidth": 5, "labelFontSize": 27, "labelColor": "#1a1a1a", "labelOffset": 0, "labelLimit": 0, "columnPadding": 9, "symbolOpacity": 1}}
}
},
{
"data": {"name": "arrows"},
"mark": {"type": "rule", "color": "#000000", "strokeWidth": 2},
"encoding": {
"x2": {"field": "run2"}
}
},
{
"data": {"name": "leftHeads"},
"mark": {"type": "point", "shape": "triangle-left", "filled": true, "color": "#000000", "size": 200, "opacity": 1}
},
{
"data": {"name": "rightHeads"},
"mark": {"type": "point", "shape": "triangle-right", "filled": true, "color": "#000000", "size": 200, "opacity": 1}
},
{
"data": {"name": "notes"},
"mark": {"type": "text", "fontSize": 29, "color": "#1a1a1a", "align": "left", "baseline": "middle"},
"encoding": {
"text": {"field": "label"}
}
}
],
"config": {"view": {"stroke": null}, "font": "Open Sans"}
}
